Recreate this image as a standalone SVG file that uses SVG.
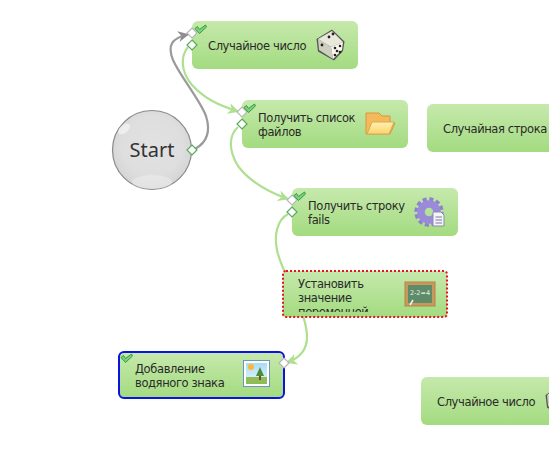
<svg xmlns="http://www.w3.org/2000/svg" width="549" height="462" viewBox="0 0 549 462">
<style>
.n{fill:url(#ng)}
.t{font-family:"DejaVu Sans",Verdana,sans-serif;font-size:11.5px;letter-spacing:-0.38px;fill:#2a2a2a}
.g{fill:none;stroke:#aee08f;stroke-width:2.200}
.k{fill:none;stroke:#9a9a9a;stroke-width:2.200}
.di{fill:#fff;stroke:#b5b5b5;stroke-width:1.2}
.dg{fill:#fff;stroke:#57ab5a;stroke-width:1.2}
.c{fill:#7fd07f;stroke:#2f9f3c;stroke-width:1;stroke-linejoin:round}
</style>
<defs>
<linearGradient id="ng" x1="0" y1="0" x2="0" y2="1"><stop offset="0" stop-color="#c6e9ac"/><stop offset="1" stop-color="#a3db80"/></linearGradient>
<radialGradient id="sg" cx=".5" cy=".45" r=".55"><stop offset="0" stop-color="#e2e2e2"/><stop offset=".7" stop-color="#dedede"/><stop offset="1" stop-color="#d4d4d4"/></radialGradient>
<linearGradient id="fg" x1="0" y1="0" x2="0" y2="1"><stop offset="0" stop-color="#fff0b0"/><stop offset="1" stop-color="#fbd36e"/></linearGradient>
<linearGradient id="sk" x1="0" y1="0" x2="0" y2="1"><stop offset="0" stop-color="#a8dcf6"/><stop offset="1" stop-color="#e6f6fc"/></linearGradient>
<marker id="ag" viewBox="0 0 10 10" refX="9" refY="5" markerWidth="11" markerHeight="11" markerUnits="userSpaceOnUse" orient="auto"><path d="M0,0 L10,5 L0,10 L3,5Z" fill="#aee08f"/></marker>
<marker id="ak" viewBox="0 0 10 10" refX="9" refY="5" markerWidth="11" markerHeight="11" markerUnits="userSpaceOnUse" orient="auto"><path d="M0,0 L10,5 L0,10 L3,5Z" fill="#8e8e8e"/></marker>
<path id="dm" d="M0,-5 L5,0 L0,5 L-5,0Z"/>
<path id="ck" d="M-6,-1.500 L-3.500,-3.500 L-1.500,-0.500 L4.500,-5 L5.500,-3 L-1.500,3.500Z"/>
<g id="dice">
<path d="M332,29.500 L344.500,41.500 L343,51 L334,60.500 L318,51.500 L316.500,39Z" fill="#555"/>
<path d="M332,31 L343,42 L331,47 L318,39Z" fill="#e8e8dc"/>
<path d="M318,39 L331,47 L333,59 L319,50Z" fill="#cfcfbf"/>
<path d="M331,47 L343,42 L342,50 L333,59Z" fill="#f8f8ec"/>
<g fill="#222"><circle cx="333" cy="34" r="1.4"/><circle cx="329" cy="37" r="1.4"/><circle cx="322" cy="45" r="1.400"/><circle cx="335" cy="48" r="1.3"/><circle cx="340" cy="46" r="1.3"/><circle cx="337" cy="51" r="1.3"/><circle cx="335" cy="55" r="1.3"/><circle cx="340" cy="52" r="1.3"/></g>
</g>
<clipPath id="cl5"><rect x="283" y="271" width="164" height="41"/></clipPath>
</defs>

<g id="connectors">
<path class="k" marker-end="url(#ak)" d="M195,149 C206,143 211,132 206,116 C200,100 180,76 173,60 C167,45 172,38 188,34.500"/>
<path class="g" marker-end="url(#ag)" d="M188,47 C180,57 181,72 192,85 C205,99 218,105 238,111.500"/>
<path class="g" marker-end="url(#ag)" d="M238,127 C229,135 228,150 238,166 C250,182 268,192 288,199"/>
<path class="g" d="M288,214 C277,220 274,235 277,250 C280,265 287,275 295,295 C302,312 307,325 307,337"/>
<path class="g" marker-end="url(#ag)" d="M307,337 C307,350 300,358 287,362.500"/>
</g>

<g id="start">
<circle cx="152" cy="150" r="39.500" fill="url(#sg)" stroke="#8a8a8a" stroke-width="1.2"/>
<ellipse cx="124" cy="129" rx="7" ry="4" transform="rotate(-40 124 129)" fill="#fff" opacity=".5"/>
<ellipse cx="152" cy="182" rx="20" ry="7" fill="#f0f0f0" opacity=".5"/>
<text x="152" y="156.500" text-anchor="middle" font-family="'Noto Sans','DejaVu Sans',sans-serif" font-size="20" fill="#333">Start</text>
<use href="#dm" x="192" y="150" class="dg"/>
</g>

<g id="node-random-number">
<rect class="n" x="192" y="21" width="166" height="48" rx="6"/>
<text class="t" x="208" y="50">Случайное число</text>
<use href="#dice"/>
<use href="#dm" x="192" y="33" class="di"/>
<use href="#dm" x="192" y="45" class="dg"/>
<use href="#ck" x="201" y="30" class="c"/>
</g>

<g id="node-file-list">
<rect class="n" x="242" y="100" width="166" height="48" rx="6"/>
<text class="t" x="258" y="122">Получить список</text>
<text class="t" x="258" y="136">файлов</text>
<path d="M366,113 H379 L382,116 H390 V123 H395 L390,134 H366Z" fill="#f3b95a" stroke="#d59a3e"/>
<path d="M367,134 L372,122 H394 L389,134Z" fill="url(#fg)" stroke="#e0a84e"/>
<use href="#dm" x="242" y="112" class="di"/>
<use href="#dm" x="242" y="124" class="dg"/>
<use href="#ck" x="250" y="109" class="c"/>
</g>

<g id="node-random-string">
<rect class="n" x="427" y="104" width="166" height="48" rx="6"/>
<text class="t" x="443" y="133">Случайная строка</text>
</g>

<g id="node-get-string">
<rect class="n" x="292" y="188" width="166" height="48" rx="6"/>
<text class="t" x="308" y="210">Получить строку</text>
<text class="t" x="308" y="224">fails</text>
<circle cx="429" cy="212" r="13" fill="none" stroke="#9080d0" stroke-width="3.400" stroke-dasharray="4.100 2.700"/>
<circle cx="429" cy="212" r="8" fill="none" stroke="#9a8ada" stroke-width="7.500"/>
<path d="M433,212 H441 L444,215 V226 H433Z" fill="#f4f4fa" stroke="#8c8cb0"/>
<path d="M435.500,217 H442 M435.500,220 H442 M435.500,223 H442" stroke="#7878a0"/>
<use href="#dm" x="292" y="200" class="di"/>
<use href="#dm" x="292" y="212" class="dg"/>
<use href="#ck" x="300" y="197" class="c"/>
</g>

<g id="node-set-variable">
<rect class="n" x="283" y="271" width="164" height="46" rx="3" stroke="#e8101a" stroke-width="2" stroke-dasharray="2 2"/>
<g clip-path="url(#cl5)">
<text class="t" x="298" y="288">Установить</text>
<text class="t" x="298" y="302">значение</text>
<text class="t" x="298" y="315.500">переменной</text>
</g>
<rect x="405" y="282" width="30" height="24" fill="#c9985c" stroke="#b08548"/>
<rect x="408" y="285" width="24" height="18" fill="#5e8c68"/>
<text x="420" y="295" text-anchor="middle" font-family="'DejaVu Sans',sans-serif" font-size="6.500" fill="#e8f0e8">2-2=4</text>
<path d="M410,305 L413,300" stroke="#f4f4f4" stroke-width="1.500"/>
</g>

<g id="node-watermark">
<rect class="n" x="119" y="352" width="165" height="46" rx="5" stroke="#0a14e0" stroke-width="2"/>
<text class="t" x="135" y="373">Добавление</text>
<text class="t" x="135" y="387">водяного знака</text>
<rect x="243.500" y="360.500" width="26" height="26" fill="#fff" stroke="#6c94c4"/>
<rect x="246" y="363" width="21" height="21" fill="url(#sk)"/>
<rect x="246" y="377" width="21" height="7" fill="#8fbc54"/>
<circle cx="251" cy="367" r="3" fill="#f6b83a"/>
<rect x="259" y="375" width="2" height="5" fill="#70502a"/>
<path d="M260,367 L264,376 H256Z" fill="#4f8a3a"/>
<use href="#dm" x="284" y="363" class="di"/>
<use href="#ck" x="127" y="359" class="c"/>
</g>

<g id="node-random-number-2">
<rect class="n" x="421" y="377" width="166" height="48" rx="6"/>
<text class="t" x="437" y="406">Случайное число</text>
<use href="#dice" x="229" y="356"/>
</g>
</svg>
